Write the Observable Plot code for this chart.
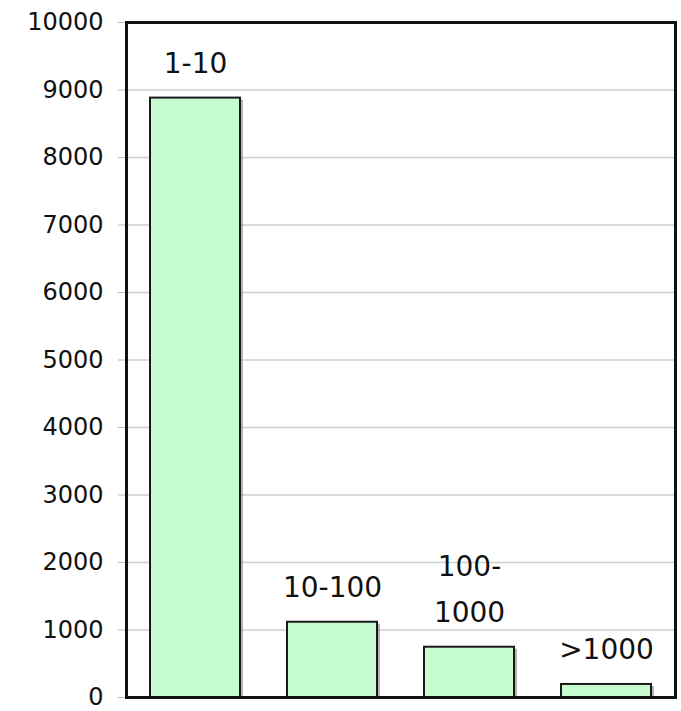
<!DOCTYPE html>
<html>
<head>
<meta charset="utf-8">
<script src="https://cdn.jsdelivr.net/npm/d3@7"></script>
<script src="https://cdn.jsdelivr.net/npm/@observablehq/plot@0.6"></script>
<style>
  html, body { margin: 0; padding: 0; background: #fff; }
</style>
</head>
<body>
<div id="chart"></div>
<script>
const categories = ["1-10", "10-100", "100-1000", ">1000"];
const counts = [8880, 1115, 745, 193];
const barLabels = ["1-10", "10-100", "100-\n1000", ">1000"];
const yTicks = [0, 1000, 2000, 3000, 4000, 5000, 6000, 7000, 8000, 9000, 10000];

const data = categories.map((c, i) => ({category: c, count: counts[i], label: barLabels[i]}));

const chart = Plot.plot({
  width: 681,
  height: 711,
  marginLeft: 126,
  marginRight: 6,
  marginTop: 22,
  marginBottom: 14,
  style: {fontFamily: "DejaVu Sans", background: "white"},
  x: {domain: categories, paddingInner: 0.34, paddingOuter: 0.17, axis: null},
  y: {domain: [0, 10000], axis: null},
  marks: [
    Plot.gridY(yTicks, {stroke: "#cfcfcf", strokeOpacity: 1, strokeWidth: 1.5}),
    Plot.axisY(yTicks, {label: null, tickSize: 8, tickPadding: 15, fontSize: 24, stroke: "#bbb", fill: "#111", tickFormat: d => String(d)}),
    Plot.barY(data, {x: "category", y: "count", fill: "#777", fillOpacity: 0.55, dx: 3, dy: 2}),
    Plot.barY(data, {x: "category", y: "count", fill: "#c6fcd0", stroke: "#1a1a1a", strokeWidth: 2}),
    Plot.text(data, {x: "category", y: "count", text: "label", lineAnchor: "bottom", lineHeight: 1.65, dy: -25, fontSize: 28, fill: "#111"}),
    Plot.frame({stroke: "#111", strokeWidth: 3})
  ]
});
document.getElementById("chart").appendChild(chart);
</script>
</body>
</html>
